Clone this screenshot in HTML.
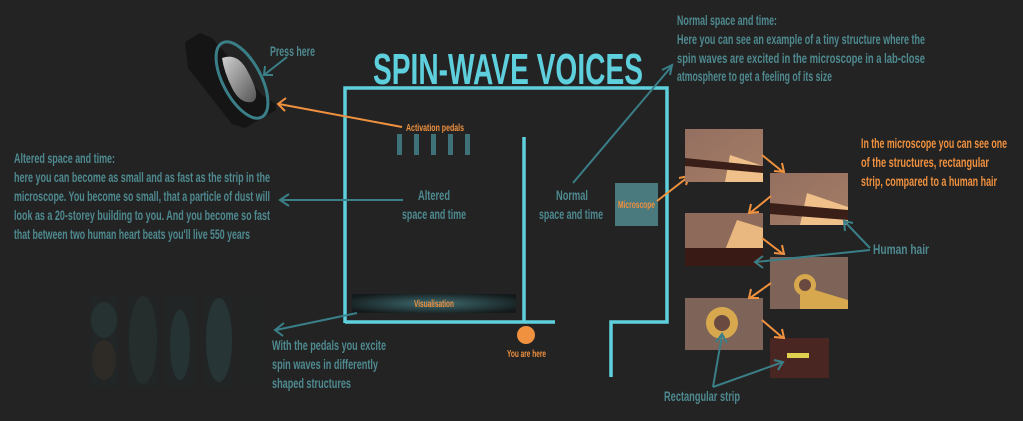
<!DOCTYPE html>
<html><head><meta charset="utf-8"><style>
html,body{margin:0;padding:0;background:#232323;}
svg{display:block;}
text{font-family:"Liberation Sans Narrow","Liberation Sans",sans-serif;font-weight:bold;}
</style></head><body>
<svg width="1023" height="421" viewBox="0 0 1023 421" xmlns="http://www.w3.org/2000/svg">
<defs>
<linearGradient id="m1" x1="0" y1="0" x2="1" y2="1"><stop offset="0" stop-color="#946f60"/><stop offset="1" stop-color="#a57d66"/></linearGradient>
<radialGradient id="vis" cx="0.5" cy="0.5" r="0.6"><stop offset="0" stop-color="#3e6b70"/><stop offset="1" stop-color="#141a1b"/></radialGradient>
<linearGradient id="pd" x1="0" y1="0" x2="1" y2="1"><stop offset="0" stop-color="#d0d0d0"/><stop offset="1" stop-color="#555"/></linearGradient>
</defs>
<rect width="1023" height="421" fill="#232323"/>

<!-- pedal -->
<polygon points="185,42 200,33 212,38 262,95 276,104 276,110 245,128 232,124 188,68" fill="#151515"/>
<path d="M222,58 Q238,52 248,72 Q262,98 252,102 Q240,104 232,88 Q224,72 222,58 Z" fill="url(#pd)"/>
<ellipse cx="242" cy="80" rx="19" ry="42" transform="rotate(-28 242 80)" fill="none" stroke="#3a7f88" stroke-width="3"/>
<text x="270" y="56" font-size="14" fill="#4e8a90" textLength="45" lengthAdjust="spacingAndGlyphs">Press here</text>
<g stroke="#3a7f88" stroke-width="2" fill="none"><line x1="287" y1="57" x2="264" y2="75"/><polyline points="265,66 264,75 273,75"/></g>

<!-- title -->
<text x="373" y="84" font-size="44" font-weight="bold" fill="#5ecfdc" textLength="270" lengthAdjust="spacingAndGlyphs">SPIN-WAVE VOICES</text>

<!-- outline -->
<g stroke="#5ecfdc" stroke-width="3.5" fill="none">
<polyline points="345,323 345,88 667,88 667,322 611,322 611,377"/>
<line x1="345" y1="322" x2="555" y2="322"/>
<line x1="524" y1="137" x2="524" y2="322"/>
</g>

<!-- pedals -->
<text x="406" y="131" font-size="10" fill="#f0913f" textLength="58" lengthAdjust="spacingAndGlyphs">Activation pedals</text>
<g fill="#3e7278"><rect x="397" y="134" width="5" height="21"/><rect x="414" y="134" width="5" height="21"/><rect x="431" y="134" width="5" height="21"/><rect x="448" y="134" width="5" height="21"/><rect x="465" y="134" width="5" height="21"/></g>
<g stroke="#f0913f" stroke-width="2" fill="none"><line x1="402" y1="127" x2="279" y2="104"/><polyline points="286,98 278,104 285,111"/></g>

<text x="418" y="200" font-size="14" fill="#4e8a90" textLength="32" lengthAdjust="spacingAndGlyphs">Altered</text>
<text x="402" y="219" font-size="14" fill="#4e8a90" textLength="64" lengthAdjust="spacingAndGlyphs">space and time</text>
<g stroke="#3a7f88" stroke-width="2" fill="none"><line x1="403" y1="200" x2="281" y2="200"/><polyline points="289,194 280,200 289,206"/></g>

<g font-size="14" fill="#4e8a90">
<text x="14" y="163" textLength="101" lengthAdjust="spacingAndGlyphs">Altered space and time:</text>
<text x="14" y="182" textLength="256" lengthAdjust="spacingAndGlyphs">here you can become as small and as fast as the strip in the</text>
<text x="14" y="201" textLength="256" lengthAdjust="spacingAndGlyphs">microscope. You become so small, that a particle of dust will</text>
<text x="14" y="220" textLength="256" lengthAdjust="spacingAndGlyphs">look as a 20-storey building to you. And you become so fast</text>
<text x="14" y="239" textLength="236" lengthAdjust="spacingAndGlyphs">that between two human heart beats you'll live 550 years</text>
</g>

<!-- normal -->
<text x="556" y="200" font-size="14" fill="#4e8a90" textLength="32" lengthAdjust="spacingAndGlyphs">Normal</text>
<text x="539" y="219" font-size="14" fill="#4e8a90" textLength="64" lengthAdjust="spacingAndGlyphs">space and time</text>
<g stroke="#3a7f88" stroke-width="2" fill="none"><line x1="573" y1="183" x2="671" y2="67"/><polyline points="662,70 672,65 670,75"/></g>
<g font-size="14" fill="#4e8a90">
<text x="677" y="25" textLength="100" lengthAdjust="spacingAndGlyphs">Normal space and time:</text>
<text x="677" y="44" textLength="248" lengthAdjust="spacingAndGlyphs">Here you can see an example of a tiny structure where the</text>
<text x="677" y="63" textLength="248" lengthAdjust="spacingAndGlyphs">spin waves are excited in the microscope in a lab-close</text>
<text x="677" y="81" textLength="155" lengthAdjust="spacingAndGlyphs">atmosphere to get a feeling of its size</text>
</g>

<!-- microscope -->
<rect x="615" y="183" width="43" height="43" fill="#4a7a7e"/>
<text x="618" y="208" font-size="10" fill="#f0913f" textLength="37" lengthAdjust="spacingAndGlyphs">Microscope</text>
<g stroke="#f0913f" stroke-width="2" fill="none"><line x1="657" y1="201" x2="688" y2="177"/><polyline points="679,178 689,176 686,185"/></g>

<!-- images -->
<rect x="685" y="129" width="78" height="53" fill="url(#m1)"/>
<polygon points="725,182 730,155 763,166 763,182" fill="#f0c08a"/>
<polygon points="685,158 763,166 763,173 685,166" fill="#3a1e18"/>
<rect x="770" y="173" width="78" height="52" fill="url(#m1)"/>
<polygon points="800,225 807,193 848,207 848,225" fill="#f0c08a"/>
<polygon points="770,203 848,210 848,220 770,214" fill="#3a1e18"/>
<rect x="685" y="213" width="78" height="53" fill="#8e6a5a"/>
<polygon points="725,250 737,220 763,228 763,250" fill="#e8b880"/>
<rect x="685" y="248" width="78" height="18" fill="#3a1a14"/>
<rect x="770" y="257" width="78" height="52" fill="#7d6358"/>
<circle cx="805" cy="285" r="11" fill="#d8a84e"/><circle cx="805" cy="285" r="6" fill="#6a4a40"/>
<polygon points="800,295 815,290 848,300 848,309 800,309" fill="#d8a84e"/>
<rect x="685" y="298" width="78" height="52" fill="#7d6358"/>
<circle cx="722" cy="323" r="16" fill="#d8a84e"/><circle cx="722" cy="323" r="8" fill="#6a4a40"/>
<rect x="770" y="338" width="59" height="40" fill="#4a2622"/>
<rect x="787" y="353" width="22" height="5" fill="#e0d050"/>

<g stroke="#f0913f" stroke-width="2" fill="none">
<line x1="762" y1="155" x2="783" y2="172"/><polyline points="774,171 784,172 782,163"/>
<line x1="771" y1="196" x2="750" y2="213"/><polyline points="751,204 749,213 759,212"/>
<line x1="762" y1="238" x2="783" y2="254"/><polyline points="774,253 784,254 782,245"/>
<line x1="771" y1="283" x2="750" y2="298"/><polyline points="751,289 749,298 759,298"/>
<line x1="762" y1="320" x2="783" y2="338"/><polyline points="774,337 784,338 782,329"/>
</g>

<text x="861" y="148" font-size="14" fill="#f0913f" textLength="146" lengthAdjust="spacingAndGlyphs">In the microscope you can see one</text>
<text x="861" y="167" font-size="14" fill="#f0913f" textLength="128" lengthAdjust="spacingAndGlyphs">of the structures, rectangular</text>
<text x="861" y="186" font-size="14" fill="#f0913f" textLength="136" lengthAdjust="spacingAndGlyphs">strip, compared to a human hair</text>

<text x="873" y="254" font-size="14" fill="#4e8a90" textLength="56" lengthAdjust="spacingAndGlyphs">Human hair</text>
<g stroke="#3a7f88" stroke-width="2" fill="none">
<line x1="870" y1="248" x2="845" y2="222"/><polyline points="845,231 844,221 853,223"/>
<line x1="870" y1="250" x2="756" y2="262"/><polyline points="763,256 755,262 763,268"/>
<line x1="713" y1="387" x2="722" y2="335"/><polyline points="716,342 722,334 727,343"/>
<line x1="713" y1="387" x2="783" y2="362"/><polyline points="774,360 783,362 778,370"/>
</g>
<text x="664" y="401" font-size="14" fill="#4e8a90" textLength="76" lengthAdjust="spacingAndGlyphs">Rectangular strip</text>

<!-- visualisation -->
<rect x="352" y="294" width="164" height="19" fill="url(#vis)"/>
<text x="414" y="307" font-size="10" fill="#f0913f" textLength="40" lengthAdjust="spacingAndGlyphs">Visualisation</text>
<g stroke="#3a7f88" stroke-width="2" fill="none"><line x1="357" y1="313" x2="276" y2="330"/><polyline points="284,323 275,330 283,336"/></g>
<g font-size="14" fill="#4e8a90">
<text x="272" y="350" textLength="114" lengthAdjust="spacingAndGlyphs">With the pedals you excite</text>
<text x="272" y="369" textLength="106" lengthAdjust="spacingAndGlyphs">spin waves in differently</text>
<text x="272" y="388" textLength="79" lengthAdjust="spacingAndGlyphs">shaped structures</text>
</g>

<!-- faint visualisation images -->
<g opacity="0.3">
<rect x="90" y="295" width="28" height="92" fill="#1e2a2b"/>
<ellipse cx="104" cy="320" rx="13" ry="18" fill="#2e5255"/>
<ellipse cx="104" cy="360" rx="12" ry="20" fill="#4a3a30"/>
<rect x="128" y="297" width="30" height="90" fill="#1e2a2b"/>
<ellipse cx="143" cy="340" rx="14" ry="44" fill="#2a4447"/>
<rect x="165" y="297" width="30" height="90" fill="#1e2a2b"/>
<ellipse cx="180" cy="345" rx="10" ry="35" fill="#2e5a5e"/>
<rect x="205" y="295" width="28" height="92" fill="#1e2a2b"/>
<ellipse cx="219" cy="340" rx="13" ry="42" fill="#355f63"/>
<rect x="240" y="297" width="25" height="90" fill="#222828"/>
</g>

<!-- you are here -->
<ellipse cx="526" cy="335" rx="9" ry="9" fill="#f0913f"/>
<text x="507" y="357" font-size="10" fill="#f0913f" textLength="39" lengthAdjust="spacingAndGlyphs">You are here</text>
</svg>
</body></html>
